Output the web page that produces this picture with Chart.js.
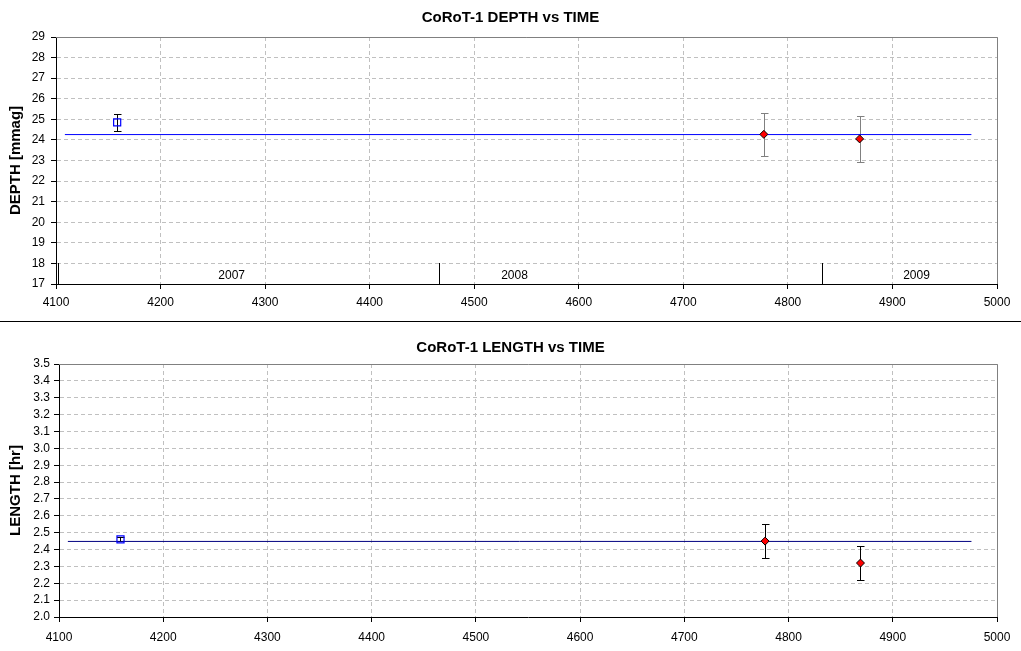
<!DOCTYPE html>
<html><head><meta charset="utf-8">
<script src="https://cdn.jsdelivr.net/npm/chart.js@4.4.1/dist/chart.umd.min.js"></script>
<style>
html,body{margin:0;padding:0;background:#fff;overflow:hidden;}
#c1{position:absolute;left:0;top:0;}
#c2{position:absolute;left:0;top:322px;}
#sep{position:absolute;left:0;top:321px;width:1021px;height:1px;background:#000;}
</style></head><body>
<canvas id="c1" width="1021" height="321"></canvas>
<div id="sep"></div>
<canvas id="c2" width="1021" height="329"></canvas>
<script>
// ---- data ----
const xMin = 4100, xMax = 5000, xStep = 100;
const depthTimes  = [4158.5, 4777.0, 4868.6];
const depthValues = [24.85, 24.27, 24.05];
const depthErrors = [0.40, 1.05, 1.10];
const depthMean = 24.26;
const depthTicks = {min: 17, max: 29, step: 1};
const meanSpan = [4108.5, 4975.5];
const yearStarts = [4101.5, 4466.5, 4832.5];
const yearNames  = ['2007', '2008', '2009'];
const yearLabelX = [4268, 4538.5, 4923];
const yearLabelY = 17.4;
const yearMarkY  = [17, 18];
const lengthTimes  = [4159.0, 4777.5, 4869.0];
const lengthValues = [2.46, 2.45, 2.32];
const lengthErrors = [0.012, 0.10, 0.10];
const lengthMean = 2.448;
const lengthTicks = {min: 2.0, max: 3.5, step: 0.1};

Chart.defaults.font.family = '"Liberation Sans", Arial, sans-serif';
Chart.defaults.color = '#000';

const frame = {
  id: 'frame',
  beforeDatasetsDraw(chart) {
    const {ctx, chartArea: a} = chart;
    ctx.save();
    ctx.strokeStyle = '#808080'; ctx.lineWidth = 1;
    ctx.beginPath();
    ctx.moveTo(a.left, Math.round(a.top) + 0.5);
    ctx.lineTo(Math.round(a.right) + 0.5, Math.round(a.top) + 0.5);
    ctx.lineTo(Math.round(a.right) + 0.5, a.bottom);
    ctx.stroke();
    ctx.restore();
  }
};

function errBars(times, values, errors, colors) {
  return {
    id: 'errbars',
    beforeDatasetsDraw(chart) {
      const {ctx, scales} = chart;
      ctx.save();
      ctx.lineWidth = 1;
      times.forEach((t, i) => {
        const x = Math.round(scales.x.getPixelForValue(t)) + 0.5;
        const y1 = Math.round(scales.y.getPixelForValue(values[i] + errors[i])) + 0.5;
        const y2 = Math.round(scales.y.getPixelForValue(values[i] - errors[i])) + 0.5;
        ctx.strokeStyle = colors[i];
        ctx.beginPath();
        ctx.moveTo(x, y1); ctx.lineTo(x, y2);
        ctx.moveTo(x - 3.5, y1); ctx.lineTo(x + 4, y1);
        ctx.moveTo(x - 3.5, y2); ctx.lineTo(x + 4, y2);
        ctx.stroke();
      });
      ctx.restore();
    }
  };
}

const years = {
  id: 'years',
  afterDatasetsDraw(chart) {
    const {ctx, scales} = chart;
    ctx.save();
    ctx.strokeStyle = '#000'; ctx.lineWidth = 1;
    ctx.beginPath();
    yearStarts.forEach(t => {
      const x = Math.round(scales.x.getPixelForValue(t)) + 0.5;
      ctx.moveTo(x, Math.round(scales.y.getPixelForValue(yearMarkY[0])));
      ctx.lineTo(x, Math.round(scales.y.getPixelForValue(yearMarkY[1])));
    });
    ctx.stroke();
    ctx.font = '12px "Liberation Sans", Arial, sans-serif';
    ctx.fillStyle = '#000';
    ctx.textAlign = 'center'; ctx.textBaseline = 'middle';
    yearNames.forEach((n, i) => {
      ctx.fillText(n, scales.x.getPixelForValue(yearLabelX[i]), scales.y.getPixelForValue(yearLabelY));
    });
    ctx.restore();
  }
};

function xScale(height, pad) {
  return {
    type: 'linear', min: xMin, max: xMax,
    ticks: {stepSize: xStep, autoSkip: false, maxRotation: 0, padding: pad,
            font: {size: 12}, color: '#000', callback: v => String(v)},
    grid: {color: '#c0c0c0', tickColor: '#000', tickLength: 5, tickBorderDash: []},
    border: {color: '#000', width: 1, dash: [4, 3]},
    afterFit(s) { s.height = height; }
  };
}
function yScale(t, width, title, pad, fmt) {
  return {
    type: 'linear', min: t.min, max: t.max,
    ticks: {stepSize: t.step, autoSkip: false, padding: pad, font: {size: 12}, color: '#000',
            callback: fmt},
    grid: {color: '#c0c0c0', tickColor: '#000', tickLength: 5, tickBorderDash: []},
    border: {color: '#000', width: 1, dash: [4, 3]},
    title: {display: true, text: title, color: '#000', font: {size: 15, weight: 'bold'},
            padding: {top: 7, bottom: 0}},
    afterFit(s) { s.width = width; }
  };
}
const rightPad = {
  type: 'linear', position: 'right', display: true,
  ticks: {display: false}, grid: {display: false}, border: {display: false},
  afterFit(s) { s.width = 24; }
};

const pointStyles = {
  pointStyle: ['rect', 'rectRot', 'rectRot'],
  pointRadius: [5, 4, 4],
  pointBackgroundColor: ['rgba(0,0,0,0)', '#ff0000', '#ff0000'],
  pointBorderColor: ['#0000ff', '#000', '#000'],
  pointBorderWidth: [1.2, 1, 1],
  showLine: false
};

// ---- top chart ----
const depthDatasets = [
  Object.assign({data: depthTimes.map((x, i) => ({x, y: depthValues[i]}))}, pointStyles),
  {data: meanSpan.map(x => ({x, y: depthMean})), showLine: true, borderColor: '#0000ff',
   borderWidth: 1, pointRadius: 0}
];
new Chart(document.getElementById('c1'), {
  type: 'scatter',
  data: {datasets: depthDatasets},
  options: {
    responsive: false, animation: false,
    layout: {padding: 0},
    plugins: {
      legend: {display: false}, tooltip: {enabled: false},
      title: {display: true, text: 'CoRoT-1 DEPTH vs TIME', color: '#000',
              font: {size: 15, weight: 'bold'}, padding: {top: 9, bottom: 10}}
    },
    scales: {
      x: xScale(37, 6),
      y: yScale(depthTicks, 56, 'DEPTH [mmag]', 6, v => String(v)),
      yR: rightPad
    }
  },
  plugins: [frame, errBars(depthTimes, depthValues, depthErrors, ['#000', '#808080', '#808080']), years]
});

// ---- bottom chart ----
const lengthDatasets = [
  Object.assign({data: lengthTimes.map((x, i) => ({x, y: lengthValues[i]}))}, pointStyles),
  {data: meanSpan.map(x => ({x, y: lengthMean})), showLine: true, borderColor: '#000080',
   borderWidth: 1, pointRadius: 0}
];
new Chart(document.getElementById('c2'), {
  type: 'scatter',
  data: {datasets: lengthDatasets},
  options: {
    responsive: false, animation: false,
    layout: {padding: 0},
    plugins: {
      legend: {display: false}, tooltip: {enabled: false},
      title: {display: true, text: 'CoRoT-1 LENGTH vs TIME', color: '#000',
              font: {size: 15, weight: 'bold'}, padding: {top: 17, bottom: 7}}
    },
    scales: {
      x: xScale(34, 8),
      y: yScale(lengthTicks, 59, 'LENGTH [hr]', 4, v => Number(v).toFixed(1)),
      yR: rightPad
    }
  },
  plugins: [frame, errBars(lengthTimes, lengthValues, lengthErrors, ['#000', '#000', '#000'])]
});
</script>
</body></html>
